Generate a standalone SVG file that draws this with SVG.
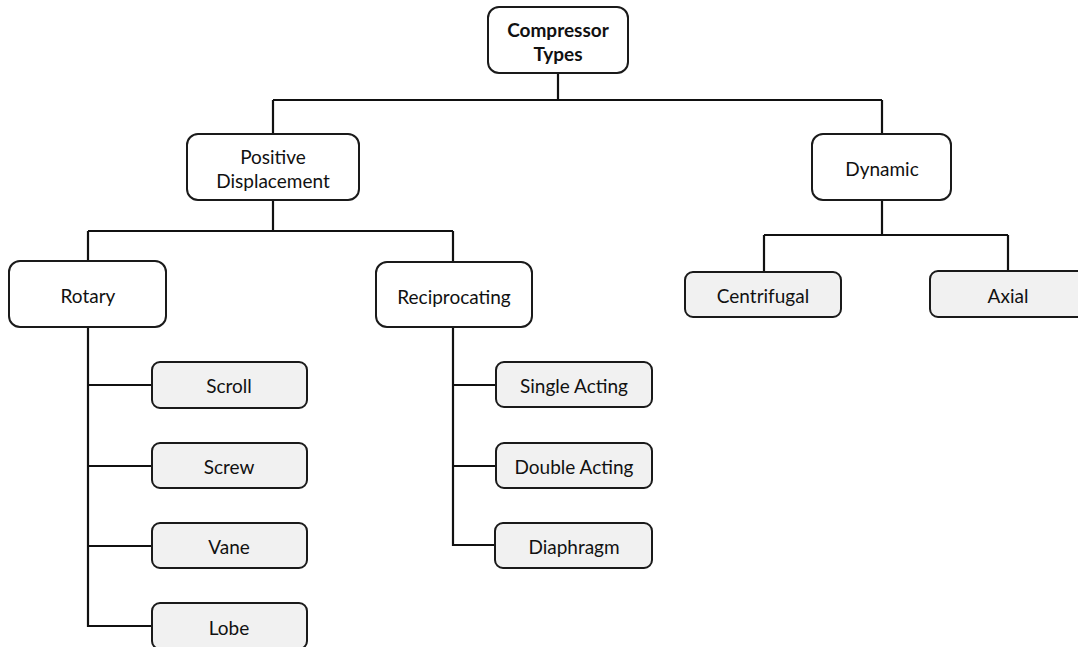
<svg xmlns="http://www.w3.org/2000/svg" width="1078" height="647" viewBox="0 0 1078 647">
  <style>
    .box { fill: #ffffff; stroke: #1a1a1a; stroke-width: 2; }
    .leaf { fill: #f1f1f1; stroke: #1a1a1a; stroke-width: 2; }
    .lbl { font-family: Lato, "Open Sans", "Liberation Sans", sans-serif; font-size: 19px; fill: #111111; text-anchor: middle; dominant-baseline: central; }
    .bold { font-weight: bold; }
    .wire { fill: none; stroke: #111111; stroke-width: 2.2; }
  </style>
  <rect width="1078" height="647" fill="#ffffff"/>

  <!-- tree connectors -->
  <g id="connectors">
    <path class="wire" d="M558,73 V100 M273,100 H882 M273,100 V134 M882,100 V134"/>
    <path class="wire" d="M273,200 V231 M88,231 H453 M88,231 V261 M453,231 V262"/>
    <path class="wire" d="M882,200 V235 M764,235 H1008 M764,235 V272 M1008,235 V271"/>
    <path class="wire" d="M88,327 V626 H152 M88,385 H152 M88,466 H152 M88,546 H152"/>
    <path class="wire" d="M453,327 V545 H495 M453,385 H495 M453,466 H495"/>
  </g>

  <g id="compressor-types">
    <rect class="box" x="488" y="7" width="140" height="66" rx="11"/>
    <text class="lbl bold" x="558" y="29">Compressor</text>
    <text class="lbl bold" x="558" y="53">Types</text>
  </g>

  <g id="positive-displacement">
    <rect class="box" x="187" y="134" width="172" height="66" rx="11"/>
    <text class="lbl" x="273" y="156">Positive</text>
    <text class="lbl" x="273" y="180">Displacement</text>
  </g>

  <g id="dynamic">
    <rect class="box" x="812" y="134" width="139" height="66" rx="11"/>
    <text class="lbl" x="882" y="168">Dynamic</text>
  </g>

  <g id="rotary">
    <rect class="box" x="9" y="261" width="157" height="66" rx="11"/>
    <text class="lbl" x="88" y="295">Rotary</text>
  </g>

  <g id="reciprocating">
    <rect class="box" x="376" y="262" width="156" height="65" rx="11"/>
    <text class="lbl" x="454" y="296">Reciprocating</text>
  </g>

  <g id="centrifugal">
    <rect class="leaf" x="685" y="272" width="156" height="45" rx="8"/>
    <text class="lbl" x="763" y="295">Centrifugal</text>
  </g>

  <g id="axial">
    <rect class="leaf" x="930" y="271" width="156" height="46" rx="8"/>
    <text class="lbl" x="1008" y="295">Axial</text>
  </g>

  <g id="scroll">
    <rect class="leaf" x="152" y="362" width="155" height="46" rx="8"/>
    <text class="lbl" x="229" y="385">Scroll</text>
  </g>

  <g id="screw">
    <rect class="leaf" x="152" y="443" width="155" height="45" rx="8"/>
    <text class="lbl" x="229" y="466">Screw</text>
  </g>

  <g id="vane">
    <rect class="leaf" x="152" y="523" width="155" height="45" rx="8"/>
    <text class="lbl" x="229" y="546">Vane</text>
  </g>

  <g id="lobe">
    <rect class="leaf" x="152" y="603" width="155" height="46" rx="8"/>
    <text class="lbl" x="229" y="627">Lobe</text>
  </g>

  <g id="single-acting">
    <rect class="leaf" x="496" y="362" width="156" height="45" rx="8"/>
    <text class="lbl" x="574" y="385">Single Acting</text>
  </g>

  <g id="double-acting">
    <rect class="leaf" x="496" y="443" width="156" height="45" rx="8"/>
    <text class="lbl" x="574" y="466">Double Acting</text>
  </g>

  <g id="diaphragm">
    <rect class="leaf" x="495" y="523" width="157" height="45" rx="8"/>
    <text class="lbl" x="574" y="546">Diaphragm</text>
  </g>
</svg>
